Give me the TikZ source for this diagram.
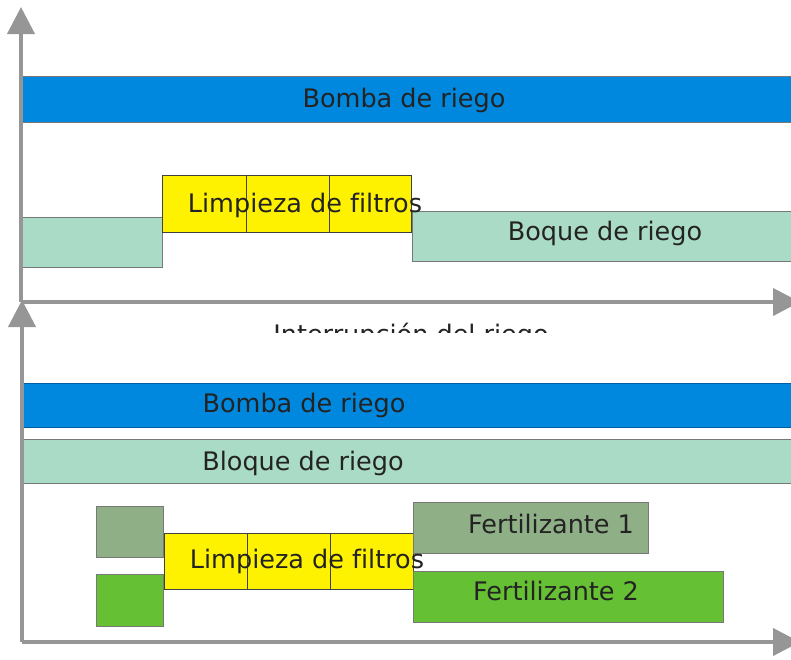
\documentclass[tikz,border=0pt]{standalone}
\usepackage{fontspec}
\setmainfont[Ligatures=NoCommon]{DejaVu Sans}
\usetikzlibrary{arrows.meta}
\definecolor{barblue}{RGB}{0,136,222}
\definecolor{bluedge}{RGB}{0,95,165}
\definecolor{mint}{RGB}{170,219,198}
\definecolor{fertone}{RGB}{143,175,135}
\definecolor{ferttwo}{RGB}{102,192,52}
\definecolor{axisgray}{RGB}{150,150,150}
\definecolor{boxgray}{RGB}{120,120,120}
\definecolor{txt}{RGB}{35,35,35}
\begin{document}
\begin{tikzpicture}[x=1pt,y=-1pt,
  box/.style={draw=boxgray, line width=0.9pt, inner sep=0pt, anchor=north west},
  ybox/.style={box, draw=black!75, line width=1.3pt, fill=yellow, minimum height=57pt},
  lbl/.style={font=\fontsize{25.5}{30}\selectfont, text=txt, inner sep=0pt, anchor=base},
  axis/.style={draw=axisgray, line width=4pt, -{Triangle[length=27pt,width=27pt]}}]
\useasboundingbox (0,0) rectangle (791,659);
\begin{scope}
\clip (0,0) rectangle (791,659);
% ---------- top diagram ----------
\node[box, fill=barblue, minimum width=780pt, minimum height=46pt] (bomba1) at (22,76) {};
\node[box, fill=mint, minimum width=140pt, minimum height=50pt] (bloqA) at (22,217) {};
\node[ybox, minimum width=84pt] (y1a) at (162,175) {};
\node[ybox, minimum width=83pt] (y1b) at (246,175) {};
\node[ybox, minimum width=82pt] (y1c) at (329,175) {};
\node[box, fill=mint, minimum width=390pt, minimum height=50pt] (bloqB) at (412,211) {};
\node[lbl] (tbomba1) at (404,107) {Bomba de riego};
\node[lbl] (tlimp1) at (305,212) {Limpieza de filtros};
\node[lbl] (tboque) at (605,240) {Boque de riego};
\begin{scope}
\clip (0,0) rectangle (791,332);
\node[lbl] (tinterr) at (411,343.5) {Interrupción del riego};
\end{scope}
\coordinate (o1) at (21,302);
\coordinate (y1) at (21,7);
\coordinate (x1) at (800,302);
\draw[axis] (o1) -- (y1);
\draw[axis] (o1) -- (x1);
% ---------- bottom diagram ----------
\node[box, draw=bluedge, fill=barblue, minimum width=780pt, minimum height=44pt] (bomba2) at (23,383) {};
\node[box, fill=mint, minimum width=780pt, minimum height=44pt] (bloq2) at (23,439) {};
\node[box, fill=fertone, minimum width=67pt, minimum height=51pt] (f1s) at (96,506) {};
\node[box, fill=ferttwo, minimum width=67pt, minimum height=52pt] (f2s) at (96,574) {};
\node[ybox, minimum width=83pt, minimum height=56pt] (y2a) at (164,533) {};
\node[ybox, minimum width=83pt, minimum height=56pt] (y2b) at (247,533) {};
\node[ybox, minimum width=83pt, minimum height=56pt] (y2c) at (330,533) {};
\node[box, fill=fertone, minimum width=235pt, minimum height=51pt] (f1) at (413,502) {};
\node[box, fill=ferttwo, minimum width=310pt, minimum height=51pt] (f2) at (413,571) {};
\node[lbl] (tbomba2) at (304,412) {Bomba de riego};
\node[lbl] (tbloq2) at (303,470) {Bloque de riego};
\node[lbl] (tlimp2) at (307,568) {Limpieza de filtros};
\node[lbl] (tf1) at (551,533) {Fertilizante 1};
\node[lbl] (tf2) at (556,600) {Fertilizante 2};
\coordinate (o2) at (22,642);
\coordinate (y2) at (22,300);
\coordinate (x2) at (800,642);
\draw[axis] (o2) -- (y2);
\draw[axis] (o2) -- (x2);
\end{scope}
\end{tikzpicture}
\end{document}
